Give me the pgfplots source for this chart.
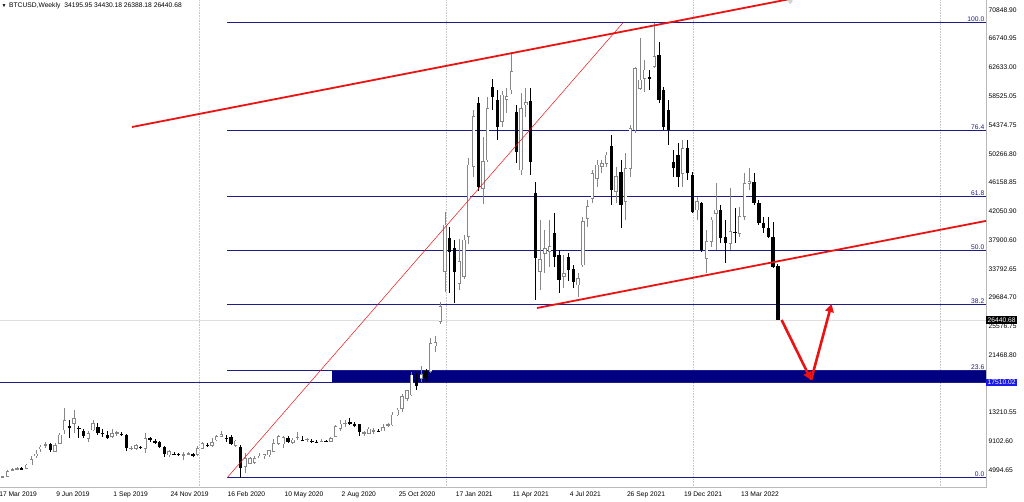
\documentclass[border=0pt]{standalone}
\usepackage{fontspec}
\setmainfont{Liberation Sans}
\usepackage{pgfplots}
\usepackage{pgfplotstable}
\pgfplotsset{compat=1.18}
\usetikzlibrary{arrows.meta}

\definecolor{fibblue}{RGB}{28,28,140}
\definecolor{zoneblue}{RGB}{0,0,128}
\definecolor{trendred}{RGB}{235,18,18}
\definecolor{candlegray}{RGB}{135,135,135}
\definecolor{boxblue}{RGB}{25,25,235}

\pgfplotstableread{
k o h l c
0 3950 4100 3900 4000
1 4010 4100 3950 4030
2 4000 4950 3950 4800
3 4950 5300 4850 5050
4 5100 5350 4950 5150
6 5150 5800 5100 5700
7 5700 7000 5650 6500
8 7000 7850 6650 7250
9 8100 8600 7500 8250
10 8500 9000 8100 8600
12 7650 8900 7550 8450
13 8800 10300 8700 10000
14 10700 13800 10200 12100
16 11650 13500 10250 12350
19 9500 10600 9050 10250
20 10700 12100 10500 11650
24 9750 10900 9500 10250
25 10300 10600 9900 10350
28 8050 8400 7900 8100
29 8050 8700 7800 8450
31 8080 10300 7350 9500
36 7120 7800 6850 7600
39 7150 7500 6450 7200
40 7250 7600 7100 7300
42 7220 8400 7000 8080
43 8080 8950 8000 8800
45 8460 9500 8300 8940
46 9270 9950 9100 9750
47 9800 10500 9700 10100
50 8460 9300 8300 9130
52 5460 7370 4500 6650
53 5930 6900 5800 6650
54 6030 6950 5900 6650
55 6800 7350 6700 6980
56 7000 7300 6600 7150
57 7130 7800 6800 7750
58 7600 9450 7500 8800
59 8800 10050 8600 9750
60 8700 9900 8100 9650
62 8890 9550 8650 9280
63 9600 10400 9300 9700
65 9350 9600 8950 9400
68 9050 9350 9000 9100
70 9040 9650 9000 9510
71 9750 11450 9700 11180
72 10950 12140 10600 11570
73 11600 12100 11100 11700
77 10250 10600 9900 10300
78 10230 11100 10200 10850
79 10600 11000 10150 10650
81 10560 11500 10500 11040
82 11400 11700 11200 11450
83 11420 13250 11300 12850
84 12850 13870 12750 13570
85 13800 15850 13250 15480
86 15240 16500 14800 16340
87 15720 19060 15600 18580
89 18100 19900 17600 18680
91 19060 23830 18900 23120
92 22740 24150 21900 23210
93 26220 29000 25900 28370
94 33370 41900 30400 40060
97 31710 38000 30800 34800
98 32660 38700 32300 37910
99 38380 49600 37400 48660
100 48415 56530 47000 55575
102 45310 52600 43000 49130
103 49370 58400 49100 56770
106 54860 59300 54100 58680
107 58060 59630 56050 58440
108 59390 64900 58800 62020
110 47940 58900 47220 56770
111 57245 59630 55500 57580
114 33380 40780 30760 35150
115 36010 39350 33140 36720
116 36250 40780 34100 36960
119 32660 35700 31000 33140
122 31470 33140 29800 32430
123 34340 41260 34100 40540
124 41020 43640 39800 42690
125 43880 47940 43170 47460
126 46750 49370 45550 48650
127 48415 49370 47460 48890
128 48890 50560 48410 50090
130 44840 48300 43170 46980
132 43400 50330 40780 48180
133 48180 54380 46980 53900
134 53670 62740 53190 62500
135 59630 66800 59390 60830
136 61060 63690 59160 62260
138 62740 69000 62500 64170
144 47460 52230 45550 51040
147 42210 44120 40780 43400
149 35290 39350 33140 37680
150 37680 41260 36960 40780
151 41730 46030 36480 42210
154 37440 45310 36480 39110
156 38870 42690 38390 41260
157 41260 47460 40780 46030
158 46030 48180 45080 46270
}\bulltab

\pgfplotstableread{
k o h l c
5 5200 5400 5000 5150
11 8650 8800 7500 7850
15 11300 12100 9550 10950
17 11050 11300 9500 10850
18 10550 10900 9500 9900
21 11200 11650 9950 10250
22 10300 10900 9700 10200
23 10000 10500 9400 9600
26 10200 10400 9900 10100
27 9990 10150 7650 8080
30 8320 8450 7950 8080
32 9500 9650 9000 9250
33 9150 9400 8700 8800
34 9030 9100 8100 8320
35 8320 8450 6900 7220
37 7250 7600 7100 7200
38 7300 7400 7050 7250
41 7200 7450 6900 7150
44 8600 8800 8300 8550
48 9600 10000 9050 9500
49 9750 9950 8550 8700
51 8225 8560 3850 5220
61 9610 9850 8800 9040
64 9300 9800 9200 9250
66 9200 9400 8900 9150
67 9050 9300 8900 9000
69 9150 9250 9050 9100
74 11900 12380 11400 11520
75 11500 11800 11150 11450
76 11520 11600 9900 10470
80 10600 10900 10400 10560
88 18340 18900 16400 17050
90 19160 19450 17700 18100
95 38200 39800 30300 36240
96 36720 37900 28900 33370
101 57480 58350 44900 45550
104 59870 61000 56500 58440
105 57960 59400 52200 54140
109 56290 57200 48900 50560
112 57870 59630 47220 49130
113 44600 46270 29320 35290
117 38870 41730 34100 35530
118 35770 36500 30280 32190
120 35530 36000 32100 33620
121 33720 34400 31000 31950
129 51380 52950 42930 45080
131 47700 49370 39590 42930
137 61300 62260 59390 60920
139 64410 66320 57480 57960
140 59390 59870 53670 54140
141 56530 57960 51520 53670
142 49130 50800 46980 48180
143 50090 51770 45550 46980
145 51040 52230 46500 47460
146 47220 47700 41730 41970
148 43170 43400 36240 36480
152 42210 42930 37440 38150
153 38390 40780 34580 37440
155 39110 42450 37440 38870
159 46270 47460 42930 43170
160 43170 43640 40060 40300
161 40300 41260 38870 39590
162 39590 41260 38150 38390
163 38390 40540 33860 34100
164 34195.95 34430.18 26388.18 26440.68
}\beartab

\newcommand{\lblfont}{\fontsize{6.7}{7.5}\selectfont}

\begin{document}
\begin{tikzpicture}
\useasboundingbox (0,0) rectangle (1024pt,-501pt);
\begin{axis}[
  at={(0pt,0pt)}, anchor=north west,
  width=986pt, height=487.5pt, scale only axis,
  xmin=0.42, xmax=207.78,
  ymin=2470.9, ymax=72280.9,
  clip mode=individual,
  axis x line*=bottom, axis y line*=right,
  axis line style={draw=gray!55, line width=0.6pt},
  major tick length=0pt,
  xtick={0.45,12.45,24.45,36.45,48.45,60.45,72.45,84.45,96.45,108.45,120.45,132.45,144.45,156.45},
  xticklabels={17 Mar 2019,9 Jun 2019,1 Sep 2019,24 Nov 2019,16 Feb 2020,10 May 2020,2 Aug 2020,25 Oct 2020,17 Jan 2021,11 Apr 2021,4 Jul 2021,26 Sep 2021,19 Dec 2021,13 Mar 2022},
  xticklabel style={font=\lblfont, anchor=north west, inner sep=0pt, xshift=-1pt, yshift=-4pt},
  ytick={70848.90,66740.95,62633.00,58525.05,54374.75,50266.80,46158.85,42050.90,37900.60,33792.65,29684.70,25576.75,21468.80,13210.55,9102.60,4994.65},
  yticklabels={70848.90,66740.95,62633.00,58525.05,54374.75,50266.80,46158.85,42050.90,37900.60,33792.65,29684.70,25576.75,21468.80,13210.55,9102.60,4994.65},
  yticklabel style={font=\lblfont, anchor=west, inner sep=0pt, xshift=2.5pt},
]
% year separators and bid line
\addplot[gray!45, densely dotted, line width=0.6pt] coordinates {(42.27,2470.9) (42.27,72280.9)};
\addplot[gray!45, densely dotted, line width=0.6pt] coordinates {(94.2,2470.9) (94.2,72280.9)};
\addplot[gray!45, densely dotted, line width=0.6pt] coordinates {(146.2,2470.9) (146.2,72280.9)};
\addplot[gray!45, densely dotted, line width=0.6pt] coordinates {(198.1,2470.9) (198.1,72280.9)};
\addplot[gray!25, line width=0.6pt] coordinates {(0.42,26440.68) (207.78,26440.68)};
% support zone and level line
\addplot[fill=zoneblue, draw=none] coordinates {(70.18,17510.02) (207.78,17510.02) (207.78,19225.4) (70.18,19225.4)} -- cycle;
\addplot[fibblue, line width=0.9pt] coordinates {(0.42,17510.02) (207.78,17510.02)};
% fibonacci levels
\addplot[fibblue, line width=0.9pt] coordinates {(48.16,3850) (207.78,3850)};
\addplot[fibblue, line width=0.9pt] coordinates {(48.16,19225.4) (207.78,19225.4)};
\addplot[fibblue, line width=0.9pt] coordinates {(48.16,28737.3) (207.78,28737.3)};
\addplot[fibblue, line width=0.9pt] coordinates {(48.16,36425) (207.78,36425)};
\addplot[fibblue, line width=0.9pt] coordinates {(48.16,44112.7) (207.78,44112.7)};
\addplot[fibblue, line width=0.9pt] coordinates {(48.16,53626.4) (207.78,53626.4)};
\addplot[fibblue, line width=0.9pt] coordinates {(48.16,69000) (207.78,69000)};
% candles: bullish
\addplot[draw=none, mark=none, error bars/.cd, y dir=both, y explicit, error mark=none,
  error bar style={draw=candlegray, line width=0.8pt, solid}]
  table[x=k, y expr={(\thisrow{h}+\thisrow{l})/2}, y error expr={(\thisrow{h}-\thisrow{l})/2}] {\bulltab};
\addplot[draw=none, mark=none, error bars/.cd, y dir=both, y explicit, error mark=none,
  error bar style={draw=candlegray, line width=3.4pt, solid}]
  table[x=k, y expr={(\thisrow{o}+\thisrow{c})/2}, y error expr={(\thisrow{c}-\thisrow{o})/2+50}] {\bulltab};
\addplot[draw=none, mark=none, error bars/.cd, y dir=both, y explicit, error mark=none,
  error bar style={draw=white, line width=2pt, solid}]
  table[x=k, y expr={(\thisrow{o}+\thisrow{c})/2}, y error expr={max((\thisrow{c}-\thisrow{o})/2-50,0)}] {\bulltab};
% candles: bearish
\addplot[draw=none, mark=none, error bars/.cd, y dir=both, y explicit, error mark=none,
  error bar style={draw=black, line width=0.8pt, solid}]
  table[x=k, y expr={(\thisrow{h}+\thisrow{l})/2}, y error expr={(\thisrow{h}-\thisrow{l})/2}] {\beartab};
\addplot[draw=none, mark=none, error bars/.cd, y dir=both, y explicit, error mark=none,
  error bar style={draw=black, line width=3.4pt, solid}]
  table[x=k, y expr={(\thisrow{o}+\thisrow{c})/2}, y error expr={(\thisrow{o}-\thisrow{c})/2}] {\beartab};
% trend lines
\addplot[trendred, line width=0.5pt] coordinates {(48.16,3850) (131.4,69000)};
\addplot[trendred, line width=1.8pt] coordinates {(28.18,54094) (175,73540)};
\addplot[trendred, line width=1.8pt] coordinates {(113.35,28175) (207.78,40648)};
\addplot[mark=diamond*, mark size=3pt, gray!35, only marks] coordinates {(166.6,72150)};
% arrows
\addplot[trendred, line width=2.6pt, -{Triangle[length=8pt,width=8.5pt]}] coordinates {(164.8,26457) (171.0,17865)};
\addplot[trendred, line width=2.6pt, -{Triangle[length=8pt,width=8.5pt]}] coordinates {(171.0,17865) (175.3,28748)};
% fib labels
\foreach \lv/\tx in {3850/0.0,19225.4/23.6,28737.3/38.2,36425/50.0,44112.7/61.8,53626.4/76.4,69000/100.0}{
  \edef\tmp{\noexpand\node[anchor=south east, inner sep=0.7pt, font=\noexpand\lblfont, text=fibblue] at (axis cs:207.6,\lv) {\tx};}
  \tmp
}
\node[anchor=north west, inner sep=0pt, font=\lblfont] at (rel axis cs:0,1) [xshift=1.5pt, yshift=-2pt]
  {{\fontsize{5}{5}\selectfont ▼}\hspace{2.5pt}BTCUSD,Weekly\hspace{4pt}34195.95 34430.18 26388.18 26440.68};
\node[fill=black, text=white, anchor=west, inner xsep=1.5pt, inner ysep=1.6pt, font=\lblfont] at (axis cs:207.78,26440.68) {26440.68};
\node[fill=boxblue, text=white, anchor=west, inner xsep=1.5pt, inner ysep=1.6pt, font=\lblfont] at (axis cs:207.78,17510.02) {17510.02};
\end{axis}
\end{tikzpicture}
\end{document}
